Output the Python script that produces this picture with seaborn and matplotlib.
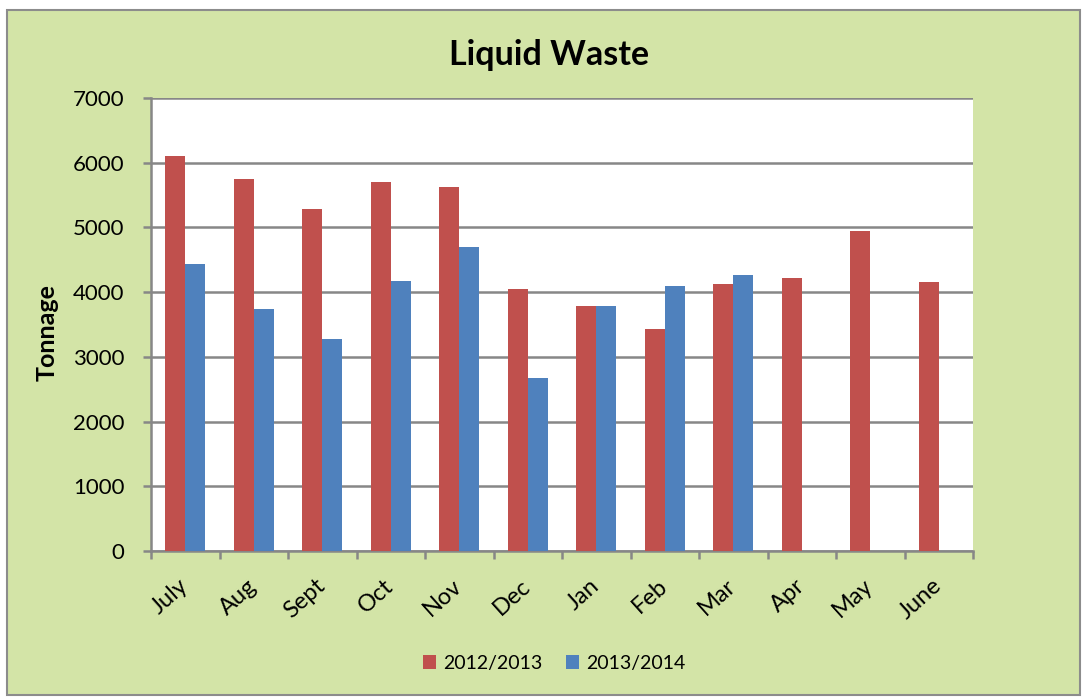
import numpy as np
import pandas as pd
import matplotlib
matplotlib.use("Agg")
import matplotlib.pyplot as plt
from matplotlib.patches import Rectangle
import seaborn as sns

months = ["July", "Aug", "Sept", "Oct", "Nov", "Dec", "Jan", "Feb", "Mar", "Apr", "May", "June"]
series_names = ["2012/2013", "2013/2014"]
values_2012 = [6100, 5750, 5290, 5695, 5620, 4055, 3790, 3425, 4120, 4215, 4940, 4160]
values_2013 = [4430, 3745, 3275, 4175, 4690, 2675, 3790, 4100, 4260, np.nan, np.nan, np.nan]
yticks = [0, 1000, 2000, 3000, 4000, 5000, 6000, 7000]

df = pd.DataFrame({
    "Month": months * 2,
    "Season": [series_names[0]] * len(months) + [series_names[1]] * len(months),
    "Tonnage": values_2012 + values_2013,
})

sns.set_theme(style="white")
plt.rcParams["font.family"] = ["Lato", "DejaVu Sans"]
plt.rcParams["text.color"] = "black"
plt.rcParams["xtick.color"] = "black"
plt.rcParams["ytick.color"] = "black"

bg = "#d3e4a7"
grid_c = "#878787"
fig = plt.figure(figsize=(10.83, 6.98), dpi=100)
fig.patch.set_facecolor("white")
frame = Rectangle((7 / 1083, 3 / 698), 1073 / 1083, 685 / 698, transform=fig.transFigure,
                  facecolor=bg, edgecolor="#8c8c8c", linewidth=1.5, zorder=-10)
fig.patches.append(frame)

ax = fig.add_axes([151 / 1083, 1 - 551 / 698, 822 / 1083, 453 / 698])
ax.set_zorder(5)
ax.set_facecolor("white")

sns.barplot(data=df, x="Month", y="Tonnage", hue="Season", order=months, hue_order=series_names,
            palette=["#c0504d", "#4f81bd"], width=0.58, saturation=1, ax=ax,
            edgecolor="none", linewidth=0, zorder=3)

ax.set_ylim(0, 7000)
ax.set_xlim(-0.5, len(months) - 0.5)
ax.set_yticks(yticks)
ax.set_yticklabels([str(v) for v in yticks], fontsize=16, color="black")
ax.yaxis.grid(True, color=grid_c, linewidth=1.8, zorder=0)
ax.set_axisbelow(True)

for s in ["top", "right"]:
    ax.spines[s].set_visible(False)
ax.spines["left"].set_color(grid_c)
ax.spines["left"].set_linewidth(1.8)
ax.spines["bottom"].set_color(grid_c)
ax.spines["bottom"].set_linewidth(1.8)

ax.tick_params(axis="y", which="both", left=True, length=6, width=1.8, color=grid_c, pad=13,
               labelcolor="black")
ax.set_xticks(np.arange(len(months)))
ax.set_xticklabels(months, rotation=42, ha="right", va="center", rotation_mode="anchor",
                   fontsize=17, color="black")
ax.tick_params(axis="x", which="major", bottom=False, pad=17)
ax.set_xticks(np.arange(-0.5, len(months), 1.0), minor=True)
ax.tick_params(axis="x", which="minor", bottom=True, length=6, width=1.8, color=grid_c)

ax.set_xlabel("")
ax.set_ylabel("")
fig.text(47 / 1083, 1 - 333 / 698, "Tonnage", rotation=90, ha="center", va="center",
         fontsize=18, fontweight="bold", color="black")

fig.text(549 / 1083, 1 - 55 / 698, "Liquid Waste", ha="center", va="center",
         fontsize=24.5, fontweight="bold", color="black")

handles, labels = ax.get_legend_handles_labels()
ax.legend_.remove()
leg = fig.legend(handles, labels, loc="center", bbox_to_anchor=(554 / 1083, 1 - 663 / 698), ncol=2,
                 frameon=False, fontsize=14, handlelength=0.7, handleheight=0.7, handletextpad=0.35,
                 columnspacing=1.2)
for t in leg.get_texts():
    t.set_color("black")

fig.savefig("out.png", dpi=100, facecolor=fig.get_facecolor())
